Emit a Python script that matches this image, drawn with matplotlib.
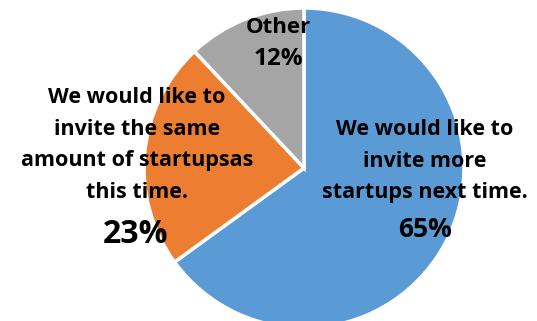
import matplotlib.pyplot as plt

W, H = 537, 321

labels = ["We would like to\ninvite more\nstartups next time.",
          "We would like to\ninvite the same\namount of startupsas\nthis time.",
          "Other"]
shares = [65, 23, 12]
colors = ["#5B9BD5", "#ED7D31", "#A5A5A5"]

plt.rcParams["font.family"] = ["Open Sans", "DejaVu Sans"]

fig = plt.figure(figsize=(W / 100, H / 100), dpi=100)

# pie centre and radius in pixels
cx, cy, r = 304, 168, 160
ax = fig.add_axes([(cx - r) / W, (H - cy - r) / H, 2 * r / W, 2 * r / H])
ax.pie(shares, colors=colors, startangle=90, counterclock=False,
       wedgeprops=dict(edgecolor="white", linewidth=2.5))
ax.set_xlim(-1, 1)
ax.set_ylim(-1, 1)
ax.set_axis_off()


def put(x, y, s, size, step=31.7):
    # one text per line, y is the first baseline in pixels from the top
    for i, line in enumerate(s.split("\n")):
        fig.text(x / W, 1 - (y + i * step) / H, line, ha="center",
                 va="baseline", fontsize=size, fontweight="bold")


# category names and percentages
put(425, 135, labels[0], 15.5)
put(425, 237, f"{shares[0]}%", 19)
put(137, 103, labels[1], 15.5)
put(136, 243, f"{shares[1]}%", 23)
put(278, 33, labels[2], 16)
put(278, 65, f"{shares[2]}%", 17.5)

fig.savefig("out.png", dpi=100)
